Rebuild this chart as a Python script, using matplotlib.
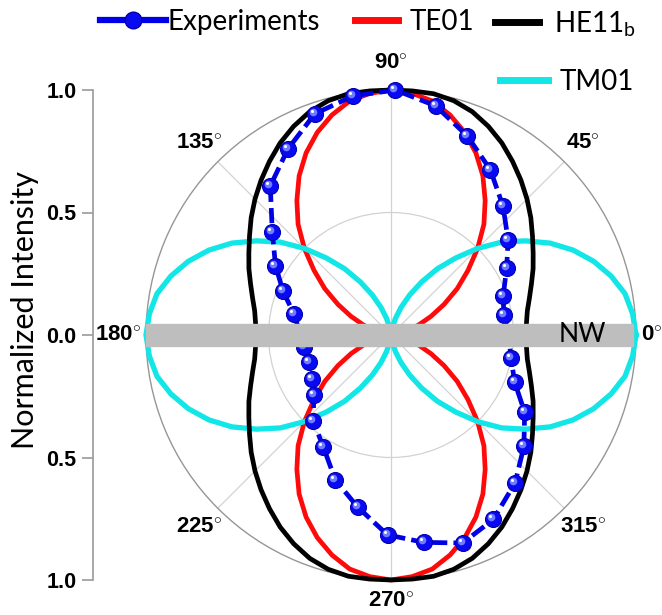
import matplotlib
matplotlib.use("Agg")
import matplotlib.pyplot as plt
import matplotlib.transforms as mtransforms
from matplotlib.lines import Line2D
from matplotlib.patches import Rectangle
import numpy as np

plt.rcParams['font.family'] = ['Lato', 'DejaVu Sans']
plt.rcParams['mathtext.fontset'] = 'custom'
plt.rcParams['mathtext.rm'] = 'Lato'
plt.rcParams['mathtext.bf'] = 'Liberation Sans:bold'

# theory curves, read on one quadrant (0..90 deg, every 5 deg); they are symmetric
quad_deg = list(range(0, 95, 5))
te01_q = [0.0, 0.01, 0.03, 0.07, 0.12, 0.18, 0.25, 0.33, 0.41, 0.50,
          0.59, 0.67, 0.75, 0.82, 0.88, 0.93, 0.97, 0.99, 1.0]
tm01_q = [1.0, 0.99, 0.97, 0.93, 0.88, 0.82, 0.75, 0.67, 0.59, 0.50,
          0.41, 0.33, 0.25, 0.18, 0.12, 0.07, 0.03, 0.01, 0.0]
he11_q = [0.55, 0.555, 0.565, 0.585, 0.61, 0.64, 0.67, 0.705, 0.745, 0.785,
          0.825, 0.865, 0.905, 0.94, 0.97, 0.99, 1.0, 1.0, 1.0]

# measured points (angle in deg, normalized intensity)
exp_deg = [0, 10, 19, 30, 39, 49, 59, 69, 79, 89, 99, 109, 119, 129, 139, 149, 158, 168,
           180, 188, 198, 209, 218, 228, 239, 249, 259, 269, 279, 289, 299, 310, 320, 330,
           339, 349, 360]
exp_r = [0.48, 0.468, 0.484, 0.545, 0.615, 0.697, 0.787, 0.87, 0.953, 1.0, 0.988, 0.955,
         0.868, 0.783, 0.642, 0.55, 0.475, 0.404, 0.37, 0.359, 0.352, 0.368, 0.40, 0.474,
         0.535, 0.634, 0.715, 0.816, 0.857, 0.898, 0.861, 0.788, 0.708, 0.63, 0.541, 0.499,
         0.48]

angle_ticks = [0, 45, 90, 135, 180, 225, 270, 315]
r_ticks = [-1.0, -0.5, 0.0, 0.5, 1.0]
r_tick_labels = ['1.0', '0.5', '0.0', '0.5', '1.0']


def full_turn(q):
    q = np.asarray(q, dtype=float)
    return np.concatenate([q, q[-2::-1], q[1:], q[-2::-1]])


theta = np.radians(np.arange(0, 365, 5))
te01 = full_turn(te01_q)
tm01 = full_turn(tm01_q)
he11 = full_turn(he11_q)

fig = plt.figure(figsize=(6.62, 6.15), dpi=100)
ax = fig.add_axes([146 / 662, 35 / 615, 490 / 662, 490 / 615], projection='polar')
ax.set_ylim(0, 1)
ax.set_yticks([0.5])
ax.set_yticklabels([])
ax.set_xticks(np.radians(angle_ticks))
ax.set_xticklabels([])
ax.grid(color='#d2d2d2', lw=0.9)
ax.spines['polar'].set_color('#969696')
ax.spines['polar'].set_linewidth(1.0)

ax.plot(theta, te01, color='#ff0a0a', lw=3.4, clip_on=False, zorder=3)
ax.plot(theta, tm01, color='#12e6e6', lw=3.8, clip_on=False, zorder=3)
ax.plot(theta, he11, color='black', lw=3.4, clip_on=False, zorder=3)

exp_t = np.radians(exp_deg)
ax.plot(exp_t, exp_r, color='#0000e6', lw=3.4, ls=(0, (3.2, 1.3)), marker='o', ms=11.5,
        mfc='#0a0af2', mec='#0000b0', mew=0.8, clip_on=False, zorder=4)
hl1 = mtransforms.offset_copy(ax.transData, fig=fig, x=-2, y=2, units='dots')
hl2 = mtransforms.offset_copy(ax.transData, fig=fig, x=-3, y=3, units='dots')
ax.plot(exp_t, exp_r, ls='none', marker='o', ms=5.5, mfc='#6f7cff', mec='none',
        transform=hl1, clip_on=False, zorder=4)
ax.plot(exp_t, exp_r, ls='none', marker='o', ms=2.2, mfc='white', mec='none',
        transform=hl2, clip_on=False, zorder=4)

# nanowire bar
ax.add_patch(Rectangle((0.0, 0.5 - 0.0215), 0.994, 0.043, transform=ax.transAxes,
                       color='#bebebe', zorder=5, clip_on=False))
ax.text(0.89, 0.5, 'NW', transform=ax.transAxes, ha='center', va='center',
        fontsize=19, zorder=6)

for deg in angle_ticks:
    lab = r'$\mathbf{%d}^{\mathbf{\circ}}$' % deg
    if deg == 0:
        ax.text(0, 1.02, lab, ha='left', va='center', fontsize=16, clip_on=False)
    elif deg == 180:
        ax.text(np.pi, 1.02, lab, ha='right', va='center', fontsize=16, clip_on=False)
    elif deg == 270:
        ax.text(np.radians(deg), 1.085, lab, ha='center', va='center', fontsize=16,
                clip_on=False)
    else:
        ax.text(np.radians(deg), 1.11, lab, ha='center', va='center', fontsize=16,
                clip_on=False)

# left radial scale
lax = fig.add_axes([93 / 662, 35 / 615, 0.001, 490 / 615])
lax.set_ylim(-1, 1)
lax.patch.set_visible(False)
for s in ['top', 'right', 'bottom']:
    lax.spines[s].set_visible(False)
lax.spines['left'].set_color('#9a9a9a')
lax.spines['left'].set_linewidth(1.2)
lax.set_xticks([])
lax.set_yticks(r_ticks)
lax.set_yticklabels(r_tick_labels, fontfamily='Liberation Sans', fontweight='bold',
                    fontsize=15.5)
lax.tick_params(axis='y', length=8, width=1.2, color='#9a9a9a', pad=4)
fig.text(25 / 662, 1 - 310 / 615, 'Normalized Intensity', rotation=90, ha='center',
         va='center', fontsize=22)

# legend, laid out like the original
entries = [
    (Line2D([], [], color='#0000e6', lw=4.5, marker='o', ms=12, mfc='#0a0af2',
            mec='#0000b0'), 'Experiments', 100, 22, 2.37, 0.07),
    (Line2D([], [], color='#ff0a0a', lw=5), 'TE01', 355, 22, 1.55, 0.43),
    (Line2D([], [], color='black', lw=5), r'HE11$_\mathregular{b}$', 495, 24, 1.6, 0.54),
    (Line2D([], [], color='#12e6e6', lw=5), 'TM01', 500, 82, 1.73, 0.43),
]
for h, lab, x0, y0, hl, tp in entries:
    fig.legend(handles=[h], labels=[lab], loc='center left',
               bbox_to_anchor=(x0 / 662, 1 - y0 / 615), frameon=False, fontsize=20,
               borderpad=0, borderaxespad=0, handlelength=hl, handletextpad=tp,
               numpoints=1)

fig.savefig('out.png', dpi=100)
